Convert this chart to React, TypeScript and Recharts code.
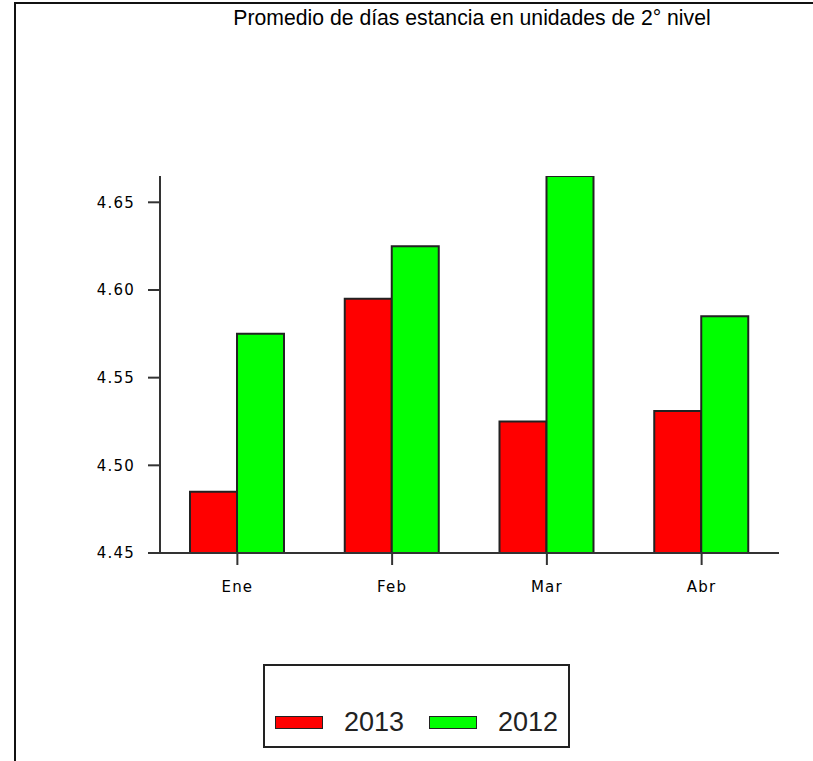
import React from "react";
import { BarChart, Bar, XAxis, YAxis } from "recharts";

const months = ["Ene", "Feb", "Mar", "Abr"];
const values2013 = [4.485, 4.595, 4.525, 4.531];
const values2012 = [4.575, 4.625, 4.665, 4.585];
const yTicks = [4.45, 4.5, 4.55, 4.6, 4.65];
const seriesNames = ["2013", "2012"];
const seriesColors = ["#ff0000", "#00ff00"];
const title = "Promedio de días estancia en unidades de 2° nivel";

const data = months.map((m, i) => ({
  month: m,
  s2013: values2013[i],
  s2012: values2012[i],
}));

const tickStyle = {
  fontFamily: "DejaVu Sans",
  fontSize: 15,
  fill: "#000",
  letterSpacing: 1.2,
};

export default function App() {
  return (
    <div style={{ position: "absolute", left: 0, top: 0, width: 813, height: 761, overflow: "hidden", background: "#fff" }}>
      <div
        style={{
          position: "absolute",
          left: 14,
          top: 2,
          width: 820,
          height: 780,
          borderTop: "2px solid #111",
          borderLeft: "2px solid #111",
        }}
      />
      <div
        style={{
          position: "absolute",
          left: 472,
          top: 6,
          transform: "translateX(-50%)",
          whiteSpace: "nowrap",
          fontFamily: "Liberation Sans, Arial, sans-serif",
          fontSize: 21.2,
          color: "#000",
        }}
      >
        {title}
      </div>
      <div style={{ position: "absolute", left: 0, top: 0 }}>
        <BarChart
          width={813}
          height={761}
          data={data}
          margin={{ top: 176, right: 34, bottom: 168, left: 100 }}
          barGap={0}
          barSize={47}
        >
          <XAxis
            dataKey="month"
            height={40}
            tickSize={12}
            tickMargin={16}
            tick={tickStyle}
            axisLine={{ stroke: "#333", strokeWidth: 2 }}
            tickLine={{ stroke: "#333", strokeWidth: 2 }}
          />
          <YAxis
            width={60}
            domain={[4.45, "dataMax"]}
            ticks={yTicks}
            tickFormatter={(v: number) => v.toFixed(2)}
            tickSize={12}
            tickMargin={13}
            tick={tickStyle}
            axisLine={{ stroke: "#333", strokeWidth: 2 }}
            tickLine={{ stroke: "#333", strokeWidth: 2 }}
            allowDataOverflow
          />
          <Bar dataKey="s2013" name={seriesNames[0]} fill={seriesColors[0]} stroke="#222" strokeWidth={2} isAnimationActive={false} />
          <Bar dataKey="s2012" name={seriesNames[1]} fill={seriesColors[1]} stroke="#222" strokeWidth={2} isAnimationActive={false} />
        </BarChart>
      </div>
      <div
        style={{
          position: "absolute",
          left: 263,
          top: 664,
          width: 303,
          height: 80,
          border: "2px solid #222",
          background: "#fff",
        }}
      >
        {seriesNames.map((name, i) => (
          <div key={name} style={{ position: "absolute", left: 10 + i * 154, top: 36, height: 40, display: "flex", alignItems: "center" }}>
            <div style={{ width: 46, height: 11, background: seriesColors[i], border: "1.5px solid #222" }} />
            <span
              style={{
                marginLeft: 21,
                fontFamily: "Liberation Sans, Arial, sans-serif",
                fontSize: 27,
                color: "#222",
              }}
            >
              {name}
            </span>
          </div>
        ))}
      </div>
    </div>
  );
}
